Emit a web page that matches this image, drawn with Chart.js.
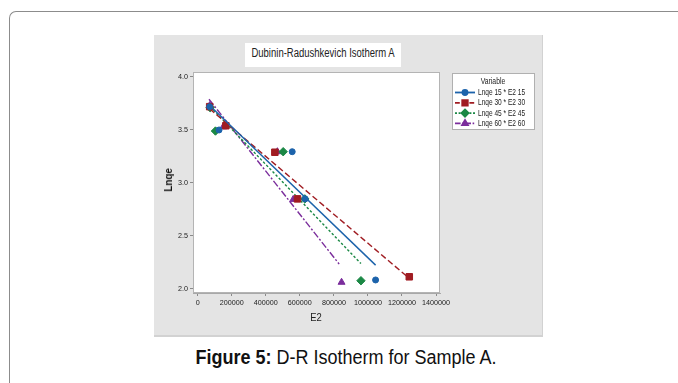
<!DOCTYPE html>
<html>
<head>
<meta charset="utf-8">
<script src="https://cdn.jsdelivr.net/npm/chart.js@4.4.0/dist/chart.umd.min.js"></script>
<style>
  html, body { margin: 0; padding: 0; background: #fff; width: 678px; height: 383px; overflow: hidden; }
  .frame { position: absolute; left: 9px; top: 11px; width: 720px; height: 420px;
           border-left: 1px solid #8c8c8c; border-top: 1px solid #8c8c8c; border-top-left-radius: 7px; }
  .panel { position: absolute; left: 154px; top: 35px; width: 389px; height: 302px; background: #e4e4e4;
           box-shadow: inset -1px -2px 0 #d2d2d2; }
  #chart { position: absolute; left: 0; top: 0; }
  .ttl { position: absolute; left: 91px; top: 8px; width: 156px; height: 24px; background: #fff; }
  .ttl span { position: absolute; left: 50%; top: 3px; white-space: nowrap;
              font: 12.5px 'Liberation Sans', Arial, sans-serif; color: #222;
              transform: translateX(-50%) scaleX(0.76); }
  .xt { position: absolute; left: 142px; top: 276px; width: 40px; text-align: center;
        font: 11.5px 'Liberation Sans', Arial, sans-serif; color: #222; transform: scaleX(0.82); }
  .yt { position: absolute; left: -6px; top: 139px; width: 40px; text-align: center; transform: rotate(-90deg) scaleX(0.86);
        font: bold 11.5px 'Liberation Sans', Arial, sans-serif; color: #111; }
  .cap { position: absolute; left: 158px; top: 346px; width: 376px; text-align: center; white-space: nowrap;
         font: 20px 'Liberation Sans', Arial, sans-serif; color: #111; transform: scaleX(0.9); }
</style>
</head>
<body>
<div class="frame"></div>
<div class="panel">
  <canvas id="chart" width="389" height="302"></canvas>
  <div class="ttl"><span>Dubinin-Radushkevich Isotherm A</span></div>
  <div class="xt">E2</div>
  <div class="yt">Lnqe</div>
</div>
<div class="cap"><b>Figure 5:</b> D-R Isotherm for Sample A.</div>

<script>
/* D-R isotherm — four scatter series with fitted lines */

const SERIES_NAMES = ['Lnqe 15 * E2 15', 'Lnqe 30 * E2 30', 'Lnqe 45 * E2 45', 'Lnqe 60 * E2 60'];

const e2_15 = [70000, 125000, 555000, 631000, 1045000];
const lnqe_15 = [3.72, 3.50, 3.295, 2.85, 2.085];
const e2_30 = [70000, 165000, 453000, 586000, 1243000];
const lnqe_30 = [3.72, 3.54, 3.29, 2.85, 2.115];
const e2_45 = [73000, 104000, 502000, 629000, 959000];
const lnqe_45 = [3.71, 3.49, 3.295, 2.85, 2.078];
const e2_60 = [70000, 150000, 468000, 561000, 845000];
const lnqe_60 = [3.73, 3.53, 3.295, 2.845, 2.063];

// fitted lines, start and end
const fitX_15 = [70000, 1045000];
const fitY_15 = [3.73, 2.225];
const fitX_30 = [70000, 1243000];
const fitY_30 = [3.70, 2.10];
const fitX_45 = [73000, 959000];
const fitY_45 = [3.72, 2.24];
const fitX_60 = [66000, 831000];
const fitY_60 = [3.79, 2.235];

const X_TICKS = [0, 200000, 400000, 600000, 800000, 1000000, 1200000, 1400000];
const Y_TICKS = [2.0, 2.5, 3.0, 3.5, 4.0];

const COLORS = ['#1c63ab', '#a01c22', '#1b8845', '#7b2d9c'];
const DASHES = [[], [6, 3], [2.5, 2], [7, 2, 2, 2]];
const MARKERS = ['circle', 'rect', 'rectRot', 'triangle'];
const RADII = [3, 4.6, 4.2, 4];

const FONT = "'Liberation Sans', Arial, sans-serif";

const pts = (xs, ys) => xs.map((x, i) => ({ x, y: ys[i] }));
const scatterData = [pts(e2_15, lnqe_15), pts(e2_30, lnqe_30), pts(e2_45, lnqe_45), pts(e2_60, lnqe_60)];
const fitData = [pts(fitX_15, fitY_15), pts(fitX_30, fitY_30), pts(fitX_45, fitY_45), pts(fitX_60, fitY_60)];

const datasets = [];
SERIES_NAMES.forEach((name, i) => {
    datasets.push({
        label: name + ' fit',
        type: 'line',
        data: fitData[i],
        borderColor: COLORS[i],
        borderWidth: 1.4,
        borderDash: DASHES[i],
        pointRadius: 0,
        fill: false,
        tension: 0,
    });
    datasets.push({
        label: name,
        data: scatterData[i],
        backgroundColor: COLORS[i],
        borderColor: COLORS[i],
        borderWidth: 1,
        pointStyle: MARKERS[i],
        pointRadius: RADII[i],
    });
});

// white plot area with grey box
const plotBox = {
    id: 'plotBox',
    beforeDraw(chart) {
        const { ctx, chartArea: a } = chart;
        ctx.save();
        ctx.fillStyle = '#fff';
        ctx.fillRect(a.left, a.top, a.right - a.left, a.bottom - a.top);
        ctx.restore();
    },
    afterDraw(chart) {
        const { ctx, chartArea: a } = chart;
        ctx.save();
        ctx.strokeStyle = '#b4b4b4';
        ctx.lineWidth = 1;
        ctx.strokeRect(a.left + 0.5, a.top + 0.5, a.right - a.left - 1, a.bottom - a.top - 1);
        ctx.restore();
    },
};

// narrow text helper (the original uses a condensed face)
function narrowText(ctx, text, x, y, sx) {
    ctx.save();
    ctx.translate(x, y);
    ctx.scale(sx, 1);
    ctx.fillText(text, 0, 0);
    ctx.restore();
}

// Minitab-like legend box on the right
const boxLegend = {
    id: 'boxLegend',
    afterDraw(chart) {
        const ctx = chart.ctx;
        const bx = 298, by = 38, bw = 83, bh = 57;
        ctx.save();
        ctx.fillStyle = '#fff';
        ctx.fillRect(bx, by, bw, bh);
        ctx.strokeStyle = '#b0b0b0';
        ctx.lineWidth = 1;
        ctx.strokeRect(bx + 0.5, by + 0.5, bw - 1, bh - 1);
        ctx.fillStyle = '#222';
        ctx.font = '9px ' + FONT;
        ctx.textAlign = 'center';
        ctx.textBaseline = 'middle';
        narrowText(ctx, 'Variable', 339, 47, 0.76);
        ctx.textAlign = 'left';
        SERIES_NAMES.forEach((name, i) => {
            const y = 57.5 + i * 10.3;
            ctx.strokeStyle = COLORS[i];
            ctx.lineWidth = 1.8;
            ctx.setLineDash(DASHES[i].map(d => d * 0.8));
            ctx.beginPath();
            ctx.moveTo(301, y);
            ctx.lineTo(321, y);
            ctx.stroke();
            ctx.setLineDash([]);
            ctx.fillStyle = COLORS[i];
            Chart.helpers.drawPoint(ctx, {
                pointStyle: MARKERS[i], radius: RADII[i] * 0.85, rotation: 0, borderWidth: 1,
            }, 311, y);
            ctx.fill();
            ctx.fillStyle = '#222';
            narrowText(ctx, name, 324, y, 0.73);
        });
        ctx.restore();
    },
};

const axisGrid = {
    display: true,
    drawOnChartArea: false,
    drawTicks: true,
    tickLength: 3,
    color: '#8a8a8a',
};

new Chart(document.getElementById('chart').getContext('2d'), {
    type: 'scatter',
    data: { datasets },
    options: {
        responsive: false,
        animation: false,
        devicePixelRatio: 1,
        layout: { padding: { top: 37, right: 103, left: 0, bottom: 0 } },
        plugins: { legend: { display: false }, tooltip: { enabled: false } },
        scales: {
            x: {
                type: 'linear',
                min: -28000,
                max: 1423500,
                afterFit: s => { s.height = 44; },
                afterBuildTicks: s => { s.ticks = X_TICKS.map(v => ({ value: v })); },
                grid: axisGrid,
                border: { display: true, color: '#a8a8a8' },
                ticks: { color: '#222', font: { family: FONT, size: 7.2 }, padding: 3, maxRotation: 0,
                         autoSkip: false, callback: v => String(v) },
            },
            y: {
                type: 'linear',
                min: 1.962,
                max: 4.047,
                afterFit: s => { s.width = 39; },
                afterBuildTicks: s => { s.ticks = Y_TICKS.map(v => ({ value: v })); },
                grid: axisGrid,
                border: { display: true, color: '#a8a8a8' },
                ticks: { color: '#222', font: { family: FONT, size: 7.2 }, padding: 2,
                         autoSkip: false, callback: v => Number(v).toFixed(1) },
            },
        },
    },
    plugins: [plotBox, boxLegend],
});
</script>
</body>
</html>
